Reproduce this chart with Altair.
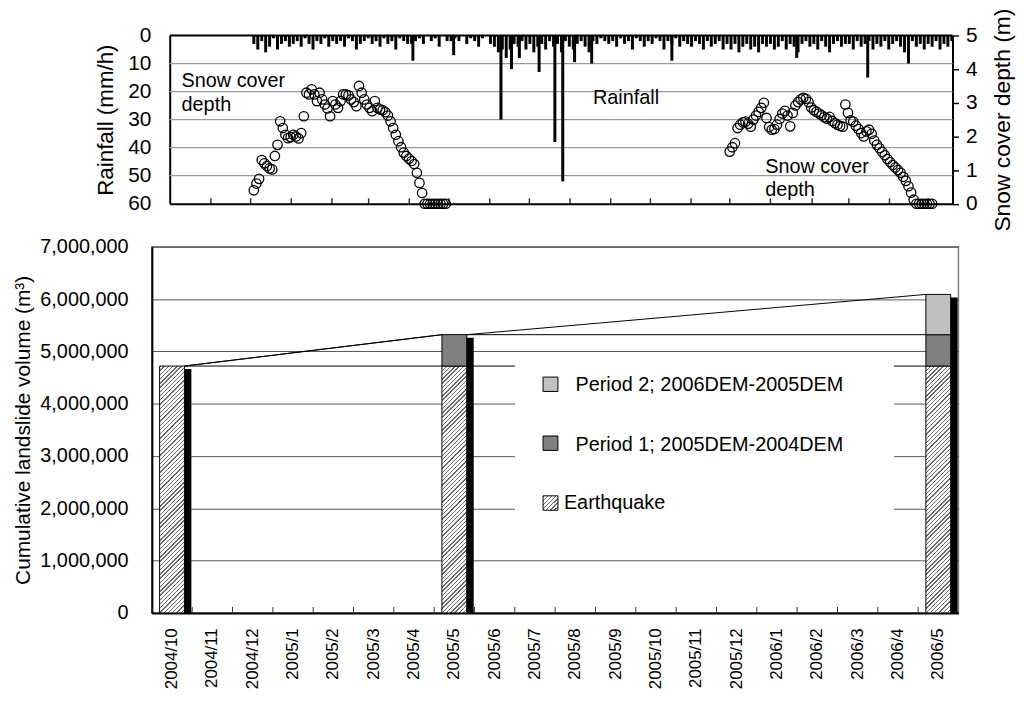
import altair as alt
import pandas as pd

# ---------------- top panel data ----------------
snow1_start = "2004-12-04"
snow1_depth = [0.40, 0.60, 0.74, 1.30, 1.20, 1.12, 1.05, 1.02, 1.42, 1.75,
               2.45, 2.25, 2.05, 1.95, 1.98, 2.05, 2.00, 1.94, 2.10, 2.60,
               3.30, 3.25, 3.40, 3.25, 3.05, 3.30, 3.10, 2.95, 2.83, 2.60,
               3.05, 2.95, 2.85, 3.05, 3.25, 3.25, 3.22, 3.10, 3.02, 2.90,
               3.50, 3.30, 3.10, 2.95, 2.85, 2.75, 3.05, 2.85, 2.80, 2.78,
               2.72, 2.62, 2.45, 2.25, 2.05, 1.86, 1.68, 1.52, 1.42, 1.34,
               1.27, 1.18, 0.92, 0.62, 0.32, 0, 0, 0, 0, 0, 0, 0, 0, 0]
snow2_start = "2005-12-01"
snow2_depth = [1.55, 1.68, 1.80, 2.25, 2.35, 2.42, 2.44, 2.38, 2.29, 2.50,
               2.62, 2.73, 2.85, 3.00, 2.55, 2.28, 2.20, 2.22, 2.35, 2.52,
               2.68, 2.76, 2.62, 2.30, 2.70, 2.92, 3.02, 3.10, 3.15, 3.12,
               3.02, 2.86, 2.78, 2.73, 2.68, 2.63, 2.57, 2.53, 2.58, 2.46,
               2.40, 2.35, 2.31, 2.29, 2.95, 2.70, 2.48, 2.44, 2.32, 2.22,
               2.10, 2.00, 2.15, 2.20, 2.08, 1.88, 1.75, 1.65, 1.54, 1.44,
               1.33, 1.24, 1.15, 1.08, 1.00, 0.92, 0.80, 0.68, 0.52, 0.33,
               0.12, 0, 0, 0, 0, 0, 0, 0]
snow_step = "2D"

rain_start = "2004-12-04"
rain_step = "3D"
rain_mm = [3, 5, 2, 6, 4, 1, 5, 3, 2, 4, 3,
           2, 4, 1, 3, 5, 2, 3, 1, 4, 2,
           3, 2, 4, 1, 2, 5, 3, 2, 1, 3,
           2, 4, 1, 3, 2, 5, 1, 2, 3, 3,
           2, 1, 3, 0, 2, 1, 4, 0, 2, 2,
           1, 2, 0, 3, 1, 2, 4, 1, 0, 3,
           4, 6, 5, 8, 5, 3, 4, 2, 5, 3,
           6, 4, 3, 5, 2, 4, 3, 6, 2, 4,
           5, 3, 2, 4, 6, 2, 3, 1, 2, 3,
           2, 4, 1, 3, 2, 5, 1, 2, 4, 2,
           3, 1, 2, 5, 2, 3, 1, 4, 2, 3,
           4, 2, 3, 5, 2, 4, 3, 2, 5, 3,
           5, 3, 6, 4, 3, 5, 4, 6, 3, 4,
           3, 5, 4, 2, 5, 3, 4, 6, 3, 2,
           4, 3, 5, 2, 4, 6, 3, 2, 4, 3,
           3, 5, 2, 4, 3, 2, 5, 3, 4, 2,
           5, 3, 2, 4, 6, 3, 2, 4, 3, 5,
           3, 4, 2, 5, 3, 4, 2]
spike_dates = ["2005-04-04", "2005-05-05", "2005-06-10", "2005-06-18", "2005-06-24",
               "2005-07-09", "2005-07-21", "2005-07-27", "2005-08-05", "2005-08-18",
               "2005-10-18", "2006-01-21", "2006-03-16", "2006-04-16"]
spike_mm = [9, 7, 30, 12, 8, 13, 38, 52, 9.5, 10, 9, 8, 15, 10]

rain_ticks = [0, 10, 20, 30, 40, 50, 60]
snow_ticks = [0, 1, 2, 3, 4, 5]
month_tick_first, month_tick_last = "2004-11-01", "2006-05-01"

note_text = ["Snow cover", "depth", "Rainfall", "Snow cover", "depth"]
note_date = ["2004-10-10", "2004-10-10", "2005-08-19", "2005-12-28", "2005-12-28"]
note_mm = [18.4, 27.0, 24.3, 49.2, 57.3]

# ---------------- bottom panel data ----------------
months = ["2004/10", "2004/11", "2004/12", "2005/1", "2005/2", "2005/3", "2005/4",
          "2005/5", "2005/6", "2005/7", "2005/8", "2005/9", "2005/10", "2005/11",
          "2005/12", "2006/1", "2006/2", "2006/3", "2006/4", "2006/5"]
bar_months = ["2004/10", "2005/5", "2006/5"]
earthquake = [4720000, 4720000, 4720000]
period1 = [0, 600000, 600000]
period2 = [0, 0, 770000]
volume_ticks = [0, 1000000, 2000000, 3000000, 4000000, 5000000, 6000000, 7000000]
legend_labels = ["Period 2; 2006DEM-2005DEM", "Period 1; 2005DEM-2004DEM", "Earthquake"]

FONT = "Liberation Sans"
W, H = 813, 369

# ---------------- frames ----------------
def dated(start, step, values, col):
    d = pd.date_range(start, periods=len(values), freq=step).strftime("%Y-%m-%d")
    return pd.DataFrame({"date": list(d), col: values})

snow_df = pd.concat([dated(snow1_start, snow_step, snow1_depth, "depth"),
                     dated(snow2_start, snow_step, snow2_depth, "depth")])
rain_df = pd.concat([dated(rain_start, rain_step, rain_mm, "mm"),
                     pd.DataFrame({"date": spike_dates, "mm": spike_mm})])
grid_df = pd.DataFrame({"g": rain_ticks[1:-1]})
note_df = pd.DataFrame({"text": note_text, "date": note_date, "mm": note_mm})
month_tick_values = [alt.DateTime(year=t.year, month=t.month, date=1, utc=True)
                     for t in pd.date_range(month_tick_first, month_tick_last, freq="MS")]

x_top = alt.Scale(type="utc",
                  domain=[alt.DateTime(year=2004, month=10, date=1, utc=True),
                          alt.DateTime(year=2006, month=5, date=19, hours=12, utc=True)],
                  range=[18, 807])
y_rain = alt.Scale(domain=[0, 60], range=[-213, -43.4], nice=False, zero=False)
y_snow = alt.Scale(domain=[0, 5], range=[-43.4, -213], nice=False, zero=False)

top_grid = alt.Chart(grid_df).mark_rule(color="#9a9a9a", strokeWidth=1.2).encode(
    y=alt.Y("g:Q", scale=y_rain, axis=None),
    x=alt.value(18), x2=alt.value(807))
top_border = alt.Chart(grid_df.head(1)).mark_rule(color="black", strokeWidth=2).encode(
    y=alt.value(-213), x=alt.value(18), x2=alt.value(807))
rain = alt.Chart(rain_df).mark_rule(color="black", strokeWidth=3).encode(
    x=alt.X("date:T", scale=x_top,
            axis=alt.Axis(orient="top", offset=43.4, labels=False, title=None,
                          values=month_tick_values, tickSize=6,
                          tickColor="#333333", tickWidth=1.5, grid=False,
                          domainColor="black", domainWidth=2)),
    y=alt.Y("mm:Q", scale=y_rain,
            axis=alt.Axis(orient="left", offset=-18, values=rain_ticks, ticks=False,
                          grid=False, labelFontSize=21, labelPadding=19,
                          domainColor="black", domainWidth=2,
                          title="Rainfall (mm/h)", titleFontSize=22.5, titlePadding=10)),
    y2=alt.datum(0))
notes = alt.Chart(note_df).mark_text(align="left", baseline="alphabetic", fontSize=20,
                                     font=FONT, color="black").encode(
    x=alt.X("date:T", scale=x_top, axis=None),
    y=alt.Y("mm:Q", scale=y_rain, axis=None),
    text="text:N")
snow = alt.Chart(snow_df).mark_point(shape="circle", size=90, filled=False, stroke="black",
                                     strokeWidth=1.3, opacity=1).encode(
    x=alt.X("date:T", scale=x_top, axis=None),
    y=alt.Y("depth:Q", scale=y_snow,
            axis=alt.Axis(orient="right", offset=-6, values=snow_ticks, tickSize=6,
                          tickColor="black", tickWidth=1.5, grid=False, labelFontSize=21,
                          labelPadding=7, domainColor="black", domainWidth=2,
                          title="Snow cover depth (m)", titleFontSize=23, titleAngle=270,
                          titleBaseline="top", titlePadding=15)))

# ---------------- bottom panel ----------------
def hatch(w, h, period=4.3, frac=0.32, line="#6a6a6a"):
    c = (w + h) / (w * w + h * h)
    n = max(1, round((w + h) / period))
    stops = []
    for k in range(n):
        o0, o1, o2 = k / n, (k + frac) / n, (k + 1) / n
        stops += [alt.GradientStop(offset=o0, color=line), alt.GradientStop(offset=o1, color=line),
                  alt.GradientStop(offset=o1, color="white"), alt.GradientStop(offset=o2, color="white")]
    return alt.LinearGradient(gradient="linear", stops=stops, x1=0, y1=0, x2=w * c, y2=h * c)

bar_df = pd.DataFrame({"month": bar_months, "eq": earthquake, "p1": period1, "p2": period2})
bar_df["top_eq"] = bar_df["eq"]
bar_df["top_p1"] = bar_df["eq"] + bar_df["p1"]
bar_df["top_p2"] = bar_df["top_p1"] + bar_df["p2"]
bar_df["zero"] = 0

x_bot = alt.Scale(domain=months, paddingInner=0, paddingOuter=0)
y_bot = alt.Scale(domain=[0, 7000000], nice=False, zero=True)
BW = 25
eq_h = H * earthquake[0] / 7000000

x_axis = alt.Axis(labelAngle=270, labelAlign="right", labelBaseline="middle", labelPadding=15,
                  labelFontSize=17, ticks=False, domainColor="black", domainWidth=2, title=None)
y_axis = alt.Axis(values=volume_ticks, format=",d", labelFontSize=20, labelPadding=24, ticks=False,
                  grid=True, gridColor="#555555", gridWidth=1, domainColor="black", domainWidth=2,
                  title="Cumulative landslide volume (m\u00b3)", titleFontSize=21, titlePadding=6)

def seg(lo, hi, fill, with_axes=False):
    d = bar_df[bar_df[hi] > bar_df[lo]]
    return alt.Chart(d).mark_bar(width=BW, fill=fill, stroke="black", strokeWidth=1).encode(
        x=alt.X("month:N", scale=x_bot, axis=x_axis if with_axes else None),
        y=alt.Y(f"{hi}:Q", scale=y_bot, axis=y_axis if with_axes else None, stack=None),
        y2=alt.Y2(f"{lo}:Q"))

shadow = alt.Chart(bar_df).mark_bar(width=7, xOffset=BW / 2 + 3.5, yOffset=3,
                                    color="black").encode(
    x=alt.X("month:N", scale=x_bot, axis=None),
    y=alt.Y("top_p2:Q", scale=y_bot, axis=None, stack=None),
    y2=alt.Y2("zero:Q"))

lines = []
for col in ["top_eq", "top_p1", "top_p2"]:
    for i in range(len(bar_months) - 1):
        lines.append({"m0": bar_months[i], "m1": bar_months[i + 1],
                      "v0": float(bar_df[col][i]), "v1": float(bar_df[col][i + 1])})
line_df = pd.DataFrame(lines)
series_lines = alt.Chart(line_df).mark_rule(color="black", strokeWidth=1, xOffset=BW / 2,
                                            x2Offset=-BW / 2).encode(
    x=alt.X("m0:N", scale=x_bot, axis=None),
    x2="m1:N",
    y=alt.Y("v0:Q", scale=y_bot, axis=None),
    y2="v1:Q")

tick_df = pd.DataFrame({"month": months})
month_ticks = alt.Chart(tick_df).mark_rule(color="#333333", strokeWidth=1).encode(
    x=alt.X("month:N", scale=x_bot, axis=None, bandPosition=0),
    y=alt.value(H), y2=alt.value(H - 6))

# ---------------- legend ----------------
def one(label):
    return pd.DataFrame({"label": [label]})

legend_box = alt.Chart(one("")).mark_rect(fill="white").encode(
    x=alt.value(366), x2=alt.value(748), y=alt.value(112), y2=alt.value(309))
leg_fills = ["#c0c0c0", "#808080", hatch(15, 15)]
leg_y = [131.3, 190.7, 251]
leg_tx = [427, 427, 415.3]
leg_ty = [145.7, 205.7, 264.7]
leg_layers = [legend_box]
for lab, f, yy, tx, ty in zip(legend_labels, leg_fills, leg_y, leg_tx, leg_ty):
    leg_layers.append(alt.Chart(one(lab)).mark_rect(fill=f, stroke="black", strokeWidth=1).encode(
        x=alt.value(394.3), x2=alt.value(409.3), y=alt.value(yy), y2=alt.value(yy + 14.5)))
    leg_layers.append(alt.Chart(one(lab)).mark_text(align="left", baseline="alphabetic", fontSize=20,
                                                    font=FONT, color="black").encode(
        x=alt.value(tx), y=alt.value(ty), text="label:N"))

layers = [top_grid, top_border, rain, notes, snow,
          seg("zero", "top_eq", hatch(BW, eq_h), True),
          seg("top_eq", "top_p1", "#808080"),
          seg("top_p1", "top_p2", "#c0c0c0"),
          shadow, series_lines, month_ticks] + leg_layers

chart = alt.layer(*layers).resolve_scale(
    x="independent", y="independent"
).properties(
    width=W, height=H,
    padding={"left": 145, "top": 238, "right": 58, "bottom": 76},
    autosize=alt.AutoSizeParams(type="none"),
).configure(font=FONT).configure_axis(
    labelFont=FONT, titleFont=FONT, titleFontWeight="normal",
    labelColor="black", titleColor="black"
).configure_view(stroke="#808080", strokeWidth=1.5)

chart.save("out.html", embed_options={"renderer": "svg", "actions": False})
